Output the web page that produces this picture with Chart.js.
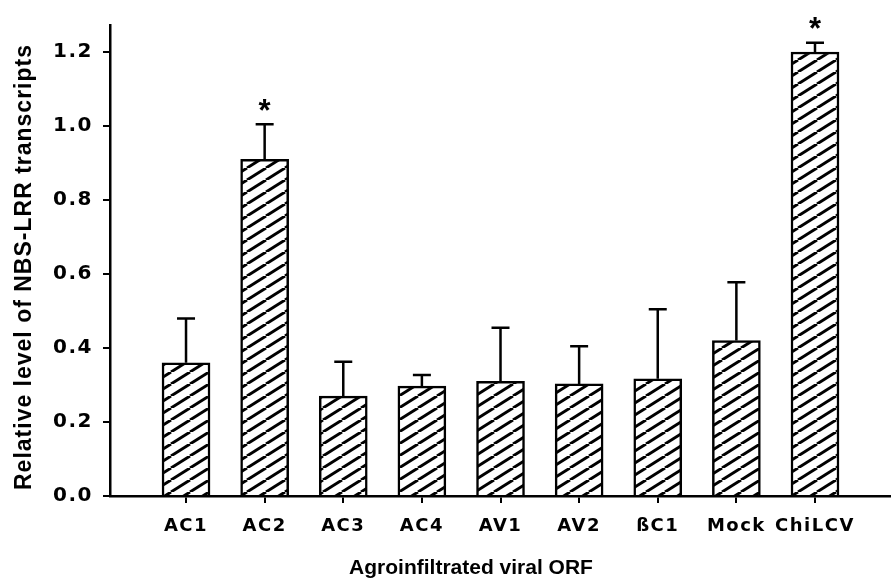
<!DOCTYPE html>
<html>
<head>
<meta charset="utf-8">
<script src="https://cdn.jsdelivr.net/npm/chart.js@4.4.0/dist/chart.umd.min.js"></script>
<style>
  html, body { margin: 0; padding: 0; background: #fff; }
  #wrap { width: 893px; height: 581px; position: relative; }
</style>
</head>
<body>
<div id="wrap"><canvas id="chart"></canvas></div>
<script>
const categories = ['AC1', 'AC2', 'AC3', 'AC4', 'AV1', 'AV2', 'ßC1', 'Mock', 'ChiLCV'];
const means = [0.36, 0.91, 0.27, 0.297, 0.31, 0.303, 0.317, 0.42, 1.20];
const errors = [0.12, 0.095, 0.093, 0.03, 0.145, 0.102, 0.188, 0.158, 0.025];
const stars = ['', '*', '', '', '', '', '', '', '*'];
const yTicks = [0, 0.2, 0.4, 0.6, 0.8, 1.0, 1.2];

// hatch /// pattern
function makeHatch() {
  const w = 19, h = 12;
  const c = document.createElement('canvas');
  c.width = w; c.height = h;
  const g = c.getContext('2d');
  g.fillStyle = '#fff';
  g.fillRect(0, 0, w, h);
  g.strokeStyle = '#000';
  g.lineWidth = 2.9;
  for (let k = -1; k <= 1; k++) {
    g.beginPath();
    g.moveTo(k * w, h);
    g.lineTo(k * w + w, 0);
    g.stroke();
  }
  return g.createPattern(c, 'repeat');
}

const spacingPlugin = {
  id: 'spacing',
  beforeLayout(chart) { chart.ctx.letterSpacing = '1.5px'; },
  beforeDraw(chart) { chart.ctx.letterSpacing = '1.5px'; }
};

const errorPlugin = {
  id: 'errors',
  afterDatasetsDraw(chart) {
    const ctx = chart.ctx;
    const meta = chart.getDatasetMeta(0);
    const y = chart.scales.y;
    ctx.save();
    ctx.letterSpacing = '0px';
    ctx.strokeStyle = '#000';
    ctx.lineWidth = 2.5;
    means.forEach((m, i) => {
      const x = meta.data[i].x;
      const y0 = y.getPixelForValue(m);
      const y1 = y.getPixelForValue(m + errors[i]);
      ctx.beginPath();
      ctx.moveTo(x, y0);
      ctx.lineTo(x, y1);
      ctx.moveTo(x - 9, y1);
      ctx.lineTo(x + 9, y1);
      ctx.stroke();
      if (stars[i]) {
        ctx.fillStyle = '#000';
        ctx.font = 'bold 31px "Liberation Sans", Arial, sans-serif';
        ctx.textAlign = 'center';
        ctx.textBaseline = 'middle';
        ctx.fillText(stars[i], x, y1 - 12);
      }
    });
    ctx.restore();
  }
};

const titlePlugin = {
  id: 'titles',
  afterDraw(chart) {
    const ctx = chart.ctx;
    ctx.save();
    ctx.fillStyle = '#000';
    ctx.textAlign = 'center';
    ctx.textBaseline = 'middle';
    ctx.letterSpacing = '0px';
    ctx.font = 'bold 21px "Liberation Sans", Arial, sans-serif';
    ctx.fillText('Agroinfiltrated viral ORF', 471, 568);
    ctx.letterSpacing = '1px';
    ctx.font = 'bold 23px "Liberation Sans", Arial, sans-serif';
    ctx.translate(25, 267);
    ctx.rotate(-Math.PI / 2);
    ctx.fillText('Relative level of NBS-LRR transcripts', 0, 0);
    ctx.restore();
  }
};

const hatch = makeHatch();

new Chart(document.getElementById('chart'), {
  type: 'bar',
  data: {
    datasets: [{
      data: means.map((v, i) => ({ x: i, y: v })),
      backgroundColor: hatch,
      borderColor: '#000',
      borderWidth: 2.5,
      barThickness: 48
    }]
  },
  options: {
    responsive: true,
    maintainAspectRatio: false,
    animation: false,
    layout: { padding: { top: 25, right: 3, left: 0, bottom: 0 } },
    plugins: { legend: { display: false }, tooltip: { enabled: false } },
    scales: {
      x: {
        type: 'linear',
        offset: false,
        min: -0.967,
        max: 8.954,
        afterFit: s => { s.height = 85; },
        grid: { display: true, offset: false, drawOnChartArea: false, drawTicks: true, tickLength: 7, color: '#000', lineWidth: 2 },
        border: { display: true, color: '#000', width: 2.5 },
        ticks: {
          stepSize: 1,
          includeBounds: false,
          autoSkip: false,
          maxRotation: 0,
          padding: 13,
          color: '#000',
          font: { family: '"DejaVu Sans", sans-serif', size: 18, weight: 'bold' },
          callback: v => categories[v] ?? ''
        }
      },
      y: {
        min: 0,
        max: 1.273,
        afterFit: s => { s.width = 110; },
        grid: { display: true, drawOnChartArea: false, drawTicks: true, tickLength: 7, color: '#000', lineWidth: 2 },
        border: { display: true, color: '#000', width: 2.5 },
        afterBuildTicks: s => { s.ticks = yTicks.map(v => ({ value: v })); },
        ticks: {
          padding: 10,
          color: '#000',
          font: { family: '"DejaVu Sans", sans-serif', size: 20, weight: 'bold' },
          callback: v => v.toFixed(1)
        }
      }
    }
  },
  plugins: [spacingPlugin, errorPlugin, titlePlugin]
});
</script>
</body>
</html>
